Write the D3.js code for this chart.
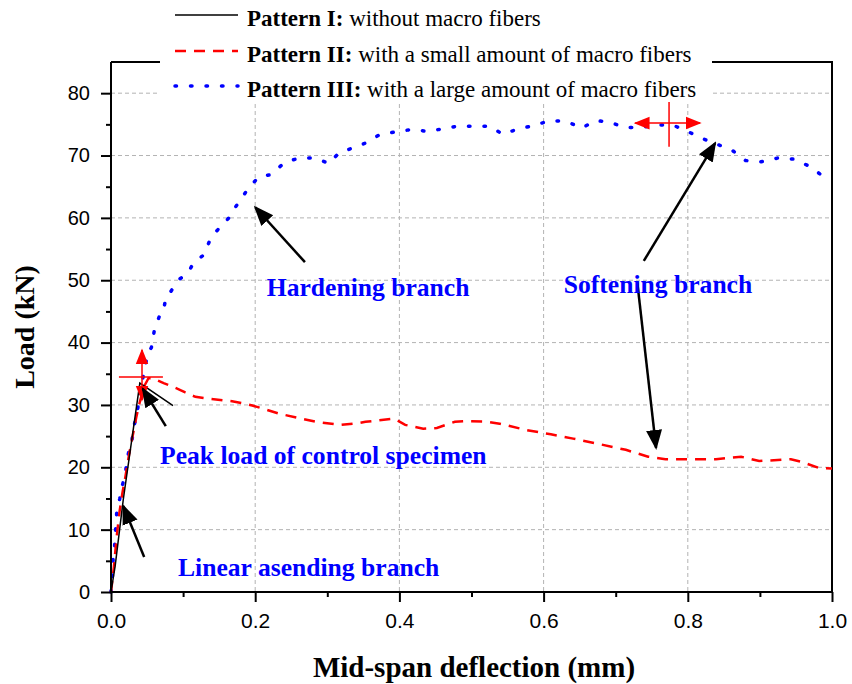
<!DOCTYPE html>
<html>
<head>
<meta charset="utf-8">
<script src="https://cdn.jsdelivr.net/npm/d3@7"></script>
<style>
  body { margin: 0; background: #fff; }
  svg { display: block; }
</style>
</head>
<body>
<svg id="chart" width="852" height="684"></svg>
<script>
// Pattern I: without macro fibers
var xI = [0, 0.0057, 0.017, 0.040, 0.086];
var yI = [0, 4.1, 14.8, 33.5, 29.9];

// Pattern II: with a small amount of macro fibers
var xII = [0, 0.004, 0.008, 0.012, 0.016, 0.020, 0.025, 0.030, 0.035, 0.040, 0.046, 0.052, 0.058,
  0.073, 0.082, 0.094, 0.103, 0.117, 0.136, 0.168, 0.186, 0.196, 0.214, 0.233, 0.264, 0.284,
  0.319, 0.344, 0.353, 0.393, 0.408, 0.433, 0.452, 0.477, 0.494, 0.522, 0.539, 0.575, 0.610,
  0.641, 0.670, 0.714, 0.745, 0.769, 0.790, 0.839, 0.874, 0.899, 0.943, 0.957, 0.982, 1.0];
var yII = [0, 4, 9, 13, 16, 18.5, 22, 25, 28, 30.5, 33, 34.3, 34.3,
  33.5, 33.1, 32.5, 32.0, 31.3, 31.0, 30.6, 30.2, 29.9, 29.3, 28.6, 27.8, 27.3,
  26.8, 27.1, 27.3, 27.8, 26.8, 26.2, 26.3, 27.3, 27.4, 27.3, 27.0, 26.0, 25.3,
  24.6, 23.9, 22.8, 21.7, 21.3, 21.3, 21.3, 21.7, 21.0, 21.3, 20.9, 19.9, 19.8];

// Pattern III: with a large amount of macro fibers
var xIII = [0, 0.002, 0.003, 0.005, 0.006, 0.008, 0.012, 0.015, 0.020, 0.022, 0.025, 0.029,
  0.032, 0.036, 0.040, 0.044, 0.051, 0.056, 0.060, 0.067, 0.072, 0.076, 0.083, 0.093, 0.107,
  0.114, 0.129, 0.136, 0.145, 0.157, 0.166, 0.173, 0.178, 0.189, 0.205, 0.221, 0.229, 0.241,
  0.261, 0.284, 0.302, 0.316, 0.337, 0.353, 0.372, 0.395, 0.418, 0.437, 0.456, 0.480, 0.503,
  0.526, 0.543, 0.563, 0.586, 0.609, 0.631, 0.653, 0.672, 0.690, 0.713, 0.736, 0.758, 0.779,
  0.799, 0.821, 0.843, 0.862, 0.880, 0.902, 0.925, 0.949, 0.968, 0.990];
var yIII = [0, 2.6, 5.5, 7.3, 9.3, 12.8, 14.9, 16.8, 18.9, 21.2, 22.6, 24.3,
  26.6, 28.7, 31.4, 34.2, 38.3, 39.2, 41.9, 44.2, 44.7, 47.1, 48.2, 50.0, 51.2,
  52.7, 54.1, 56.1, 57.7, 59.2, 60.3, 61.8, 62.6, 64.5, 66.6, 66.9, 67.7, 68.9,
  69.6, 69.6, 68.7, 70.4, 71.3, 72.0, 73.3, 73.8, 74.2, 73.9, 74.2, 74.7, 74.7,
  74.7, 73.4, 74.2, 74.8, 75.6, 75.5, 74.4, 75.6, 75.4, 74.5, 74.5, 74.9, 74.9,
  73.9, 72.7, 71.7, 70.8, 69.2, 69.0, 69.6, 69.4, 68.3, 66.5];

var xTicks = [0, 0.2, 0.4, 0.6, 0.8, 1.0];
var xMinor = [0.1, 0.3, 0.5, 0.7, 0.9];
var yTicks = [0, 10, 20, 30, 40, 50, 60, 70, 80];
var yMinor = [5, 15, 25, 35, 45, 55, 65, 75];

var legendNames = ["Pattern I:", "Pattern II:", "Pattern III:"];
var legendDesc = [" without macro fibers", " with a small amount of macro fibers", " with a large amount of macro fibers"];

// annotations (text + arrows), in data units
var labels = [
  { t: "Hardening branch", x: 0.216, y: 47.5 },
  { t: "Softening branch", x: 0.628, y: 48.0 },
  { t: "Peak load of control specimen", x: 0.068, y: 20.5 },
  { t: "Linear asending branch", x: 0.093, y: 2.5 }
];
var arrows = [
  { x1: 0.269, y1: 52.9, x2: 0.200, y2: 61.7 },
  { x1: 0.739, y1: 53.1, x2: 0.838, y2: 72.0 },
  { x1: 0.730, y1: 49.6, x2: 0.756, y2: 23.1 },
  { x1: 0.076, y1: 26.6, x2: 0.044, y2: 32.6 },
  { x1: 0.046, y1: 5.6, x2: 0.017, y2: 13.8 }
];

var svg = d3.select("#chart");
var mLeft = 111, mRight = 832, mTop = 62, mBottom = 592;

var x = d3.scaleLinear().domain([0, 1]).range([mLeft, mRight]);
var y = d3.scaleLinear().domain([0, 85]).range([mBottom, mTop]);

var serif = "'Liberation Serif', 'Times New Roman', serif";
var sans = "'Liberation Sans', Arial, sans-serif";

// grid
svg.append("g").selectAll("line").data(yTicks.slice(1)).enter().append("line")
  .attr("x1", mLeft).attr("x2", mRight)
  .attr("y1", function (d) { return y(d); }).attr("y2", function (d) { return y(d); })
  .attr("stroke", "#b3b3b3").attr("stroke-width", 1).attr("stroke-dasharray", "4,3");
svg.append("g").selectAll("line").data(xTicks.slice(1, 5)).enter().append("line")
  .attr("y1", mTop).attr("y2", mBottom)
  .attr("x1", function (d) { return x(d); }).attr("x2", function (d) { return x(d); })
  .attr("stroke", "#b3b3b3").attr("stroke-width", 1).attr("stroke-dasharray", "4,3");

// frame top/right
svg.append("path")
  .attr("d", "M" + mLeft + "," + mTop + "H" + mRight + "V" + mBottom)
  .attr("fill", "none").attr("stroke", "#000").attr("stroke-width", 2);

// arrow markers
var defs = svg.append("defs");
function marker(id, color, size) {
  defs.append("marker").attr("id", id)
    .attr("viewBox", "0 0 10 10").attr("refX", 9).attr("refY", 5)
    .attr("markerWidth", size).attr("markerHeight", size)
    .attr("markerUnits", "userSpaceOnUse")
    .attr("orient", "auto-start-reverse")
    .append("path").attr("d", "M0,1 L10,5 L0,9 Z").attr("fill", color);
}
marker("ah", "#000", 20);
marker("ahr", "red", 16);

// series
var lineGen = d3.line().x(function (d) { return x(d[0]); }).y(function (d) { return y(d[1]); });
var sI = d3.zip(xI, yI), sII = d3.zip(xII, yII), sIII = d3.zip(xIII, yIII);

svg.append("path").datum(sIII).attr("d", lineGen)
  .attr("fill", "none").attr("stroke", "#0000ff").attr("stroke-width", 3.5)
  .attr("stroke-linecap", "round").attr("stroke-dasharray", "1.5,14");
svg.append("path").datum(sII).attr("d", lineGen)
  .attr("fill", "none").attr("stroke", "#ff0000").attr("stroke-width", 2.5)
  .attr("stroke-dasharray", "11,8");
svg.append("path").datum(sI).attr("d", lineGen)
  .attr("fill", "none").attr("stroke", "#000").attr("stroke-width", 1.5);

// red crosshair markers
function redCross(cx, cy, hx1, hx2, vy1, vy2, hArrows, vArrows) {
  svg.append("line").attr("x1", x(hx1)).attr("x2", x(hx2)).attr("y1", y(cy)).attr("y2", y(cy))
    .attr("stroke", "red").attr("stroke-width", 1.5)
    .attr("marker-end", hArrows ? "url(#ahr)" : null).attr("marker-start", hArrows ? "url(#ahr)" : null);
  svg.append("line").attr("x1", x(cx)).attr("x2", x(cx)).attr("y1", y(vy1)).attr("y2", y(vy2))
    .attr("stroke", "red").attr("stroke-width", 1.5)
    .attr("marker-end", vArrows ? "url(#ahr)" : null).attr("marker-start", vArrows ? "url(#ahr)" : null);
}
redCross(0.043, 34.5, 0.011, 0.072, 30.8, 38.8, false, true);
redCross(0.774, 75.2, 0.727, 0.817, 71.4, 78.6, true, false);

// black arrows
svg.append("g").selectAll("line").data(arrows).enter().append("line")
  .attr("x1", function (d) { return x(d.x1); }).attr("y1", function (d) { return y(d.y1); })
  .attr("x2", function (d) { return x(d.x2); }).attr("y2", function (d) { return y(d.y2); })
  .attr("stroke", "#000").attr("stroke-width", 2.5).attr("marker-end", "url(#ah)");

// annotation labels
svg.append("g").selectAll("text").data(labels).enter().append("text")
  .attr("x", function (d) { return x(d.x); }).attr("y", function (d) { return y(d.y); })
  .attr("font-family", serif).attr("font-weight", "bold").attr("font-size", 25.6)
  .attr("fill", "#0000ff").text(function (d) { return d.t; });

// axes
var xAxis = svg.append("g").attr("transform", "translate(0," + mBottom + ")")
  .call(d3.axisBottom(x).tickValues(xTicks).tickFormat(d3.format(".1f")).tickSize(10).tickPadding(11));
svg.append("g").attr("transform", "translate(0," + mBottom + ")")
  .call(d3.axisBottom(x).tickValues(xMinor).tickFormat("").tickSize(5))
  .select(".domain").remove();
var yAxis = svg.append("g").attr("transform", "translate(" + mLeft + ",0)")
  .call(d3.axisLeft(y).tickValues(yTicks).tickSize(10).tickPadding(11));
svg.append("g").attr("transform", "translate(" + mLeft + ",0)")
  .call(d3.axisLeft(y).tickValues(yMinor).tickFormat("").tickSize(5))
  .select(".domain").remove();

xAxis.select(".domain").remove();
yAxis.select(".domain").remove();
svg.append("path").attr("d", "M" + mLeft + "," + mTop + "V" + mBottom + "H" + mRight)
  .attr("fill", "none").attr("stroke", "#000").attr("stroke-width", 2);
svg.selectAll(".tick line").attr("stroke-width", 2);
svg.selectAll(".tick text").attr("font-family", sans).attr("font-size", 20).attr("fill", "#000");
xAxis.selectAll(".tick text").attr("font-size", 21);

// axis titles
svg.append("text").attr("x", 474).attr("y", 677)
  .attr("text-anchor", "middle").attr("font-family", serif).attr("font-weight", "bold")
  .attr("font-size", 29).text("Mid-span deflection (mm)");
svg.append("text").attr("transform", "translate(34,327) rotate(-90)")
  .attr("text-anchor", "middle").attr("font-family", serif).attr("font-weight", "bold")
  .attr("font-size", 28).text("Load (kN)");

// legend
var lg = svg.append("g");
lg.append("rect").attr("x", 160).attr("y", 0).attr("width", 552).attr("height", 102).attr("fill", "#fff");
var legendStyles = [
  { c: "#000", w: 1.5, dash: null, cap: "butt" },
  { c: "#ff0000", w: 2.5, dash: "11,8", cap: "butt" },
  { c: "#0000ff", w: 3.5, dash: "1.5,14", cap: "round" }
];
var rowY = [15, 51, 86];
legendNames.forEach(function (n, i) {
  lg.append("line").attr("x1", 175).attr("x2", 238).attr("y1", rowY[i]).attr("y2", rowY[i])
    .attr("stroke", legendStyles[i].c).attr("stroke-width", legendStyles[i].w)
    .attr("stroke-dasharray", legendStyles[i].dash).attr("stroke-linecap", legendStyles[i].cap);
  var t = lg.append("text").attr("x", 247).attr("y", rowY[i] + 11)
    .attr("font-family", serif).attr("font-size", 23).attr("fill", "#000");
  t.append("tspan").attr("font-weight", "bold").text(n);
  t.append("tspan").text(legendDesc[i]);
});
</script>
</body>
</html>
